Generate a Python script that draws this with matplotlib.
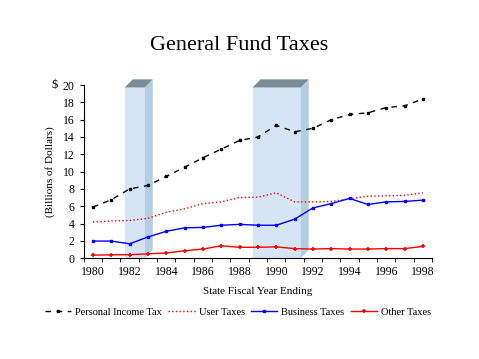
import matplotlib
matplotlib.use("Agg")
import matplotlib.pyplot as plt
from matplotlib.patches import Rectangle, Polygon

plt.rcParams['font.family'] = ['Liberation Serif', 'DejaVu Serif']

years = list(range(1980, 1999))
personal_income = [5.9, 6.75, 8.0, 8.4, 9.45, 10.5, 11.6, 12.6, 13.6, 14.0,
                   15.35, 14.6, 15.0, 16.0, 16.6, 16.8, 17.4, 17.6, 18.4]
user_taxes = [4.17, 4.3, 4.35, 4.6, 5.3, 5.7, 6.3, 6.5, 7.0, 7.05,
              7.55, 6.5, 6.5, 6.55, 6.85, 7.15, 7.2, 7.25, 7.55]
business_taxes = [1.97, 1.97, 1.65, 2.45, 3.1, 3.5, 3.55, 3.8, 3.9, 3.8,
                  3.8, 4.5, 5.8, 6.3, 6.9, 6.2, 6.5, 6.55, 6.7]
other_taxes = [0.35, 0.38, 0.4, 0.5, 0.6, 0.85, 1.05, 1.43, 1.25, 1.25,
               1.3, 1.1, 1.05, 1.1, 1.05, 1.05, 1.1, 1.1, 1.35]

# shaded periods (start, end) in fiscal years, drawn as 3d-looking columns
shaded = [(1981.74, 1982.83), (1988.71, 1991.34)]
col_top = 19.73

fig = plt.figure(figsize=(4.79, 3.59), dpi=100)
ax = fig.add_axes([0.175, 0.281, 0.727, 0.482])

# depth of the columns in data units (~8 px each way)
dx, dy = 0.43, 0.93
for x0, x1 in shaded:
    ax.add_patch(Rectangle((x0, 0), x1 - x0, col_top, facecolor='#d6e5f6',
                           edgecolor='none', zorder=1, clip_on=False))
    ax.add_patch(Polygon([(x1, 0), (x1 + dx, dy), (x1 + dx, col_top + dy), (x1, col_top)],
                         facecolor='#b5cde0', edgecolor='none', zorder=1, clip_on=False))
    ax.add_patch(Polygon([(x0, col_top), (x1, col_top), (x1 + dx, col_top + dy), (x0 + dx, col_top + dy)],
                         facecolor='#7d8b95', edgecolor='none', zorder=1, clip_on=False))

ax.plot(years, personal_income, color='black', lw=1, dashes=(4, 4),
        marker='s', ms=1.6, label='Personal Income Tax', zorder=3)
ax.plot(years, user_taxes, color='red', lw=1, ls=':', label='User Taxes', zorder=3)
ax.plot(years, business_taxes, color='blue', lw=1, marker='s', ms=1.6,
        label='Business Taxes', zorder=3)
ax.plot(years, other_taxes, color='red', lw=1, marker='+', ms=3, mew=1.2,
        label='Other Taxes', zorder=3)

ax.set_xlim(1979.5, 1998.5)
ax.set_ylim(0, 20)
ax.set_yticks(range(0, 21, 2))
ax.set_xticks(range(1980, 1999, 2))
ax.set_xticks([y + 0.5 for y in range(1979, 1999)], minor=True)
ax.tick_params(axis='x', which='major', length=0, labelsize=8.5, pad=6)
ax.tick_params(axis='x', which='minor', length=3, direction='out')
ax.tick_params(axis='y', length=3, direction='out', labelsize=8.5)

for s in ['top', 'right']:
    ax.spines[s].set_visible(False)

ax.set_xlabel('State Fiscal Year Ending', fontsize=8, labelpad=6)
ax.set_ylabel('(Billions of Dollars)', fontsize=8, labelpad=6)
fig.text(55 / 479, 1 - 85 / 359, '$', fontsize=9, ha='center', va='center')
fig.text(0.5, 1 - 45 / 359, 'General Fund Taxes', fontsize=16, ha='center', va='center')

fig.legend(loc='center', bbox_to_anchor=(0.497, 1 - 312 / 359), ncol=4, frameon=False,
           fontsize=7.5, handlelength=2.5, handletextpad=0.4, columnspacing=0.6)

fig.savefig('out.png', dpi=100)
